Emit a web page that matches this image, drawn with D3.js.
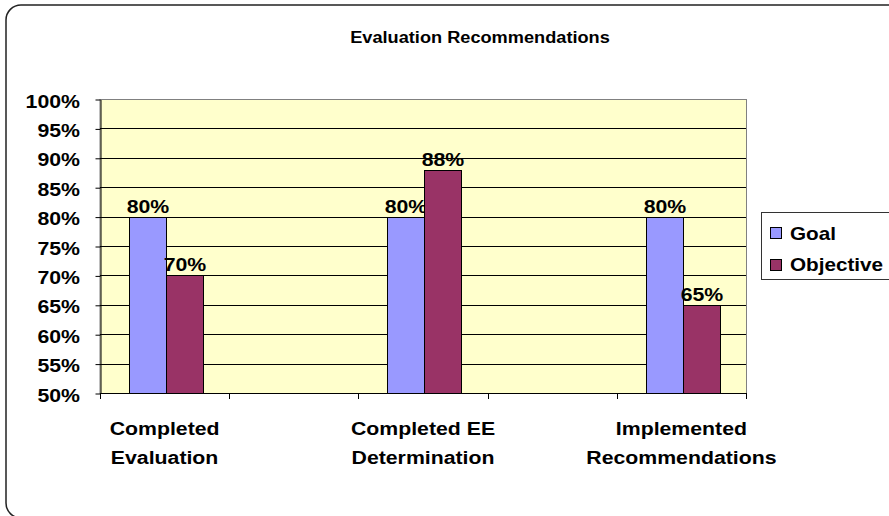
<!DOCTYPE html>
<html lang="en">
<head>
<meta charset="utf-8">
<title>Evaluation Recommendations</title>
<script type="text/javascript" src="https://cdn.jsdelivr.net/npm/d3@7/dist/d3.min.js"></script>
<style type="text/css">
  html, body { margin: 0; background: white; overflow: hidden; }
  svg { display: block; }
  text { font-family: "Liberation Sans", Arial, sans-serif; font-weight: bold; fill: #000; }
</style>
</head>
<body>
<div id="chart"></div>
<script type="text/javascript">

// data
var categories = [["Completed", "Evaluation"], [], ["Completed EE", "Determination"], [], ["Implemented", "Recommendations"]];
var seriesNames = ["Goal", "Objective"];
var goal = [80, null, 80, null, 80];
var objective = [70, null, 88, null, 65];
var yTicks = [50, 55, 60, 65, 70, 75, 80, 85, 90, 95, 100];

var width = 889, height = 516;
var plot = {left: 100, right: 746, top: 99, bottom: 393};
var colors = ["#9999FF", "#993366"];

var svg = d3.select("#chart").append("svg")
    .attr("width", width)
    .attr("height", height);

// text helper, the source lettering is a bit stretched sideways
function label(g, x, y, txt, size, anchor, sx) {
  return g.append("text")
    .attr("transform", "translate(" + x + "," + y + ") scale(" + (sx || 1.15) + ",1)")
    .attr("text-anchor", anchor || "middle")
    .style("font-size", size + "px")
    .text(txt);
}

// outer frame, runs off the right and bottom edges
svg.append("rect")
  .attr("x", 6).attr("y", 5)
  .attr("width", 930).attr("height", 513)
  .attr("rx", 15).attr("ry", 15)
  .attr("fill", "white")
  .attr("stroke", "#222")
  .attr("stroke-width", 1.5);

label(svg, 480, 43, "Evaluation Recommendations", 17, "middle", 1.07);

var x = d3.scaleBand()
  .domain(d3.range(categories.length))
  .range([plot.left, plot.right]);

var bw = x.bandwidth() / 3.5;
var x1 = d3.scaleBand()
  .domain(seriesNames)
  .range([bw * 0.78, bw * 2.78]);

var y = d3.scaleLinear()
  .domain([50, 100])
  .range([plot.bottom, plot.top]);

// plot background
svg.append("rect")
  .attr("x", plot.left).attr("y", plot.top + 0.5)
  .attr("width", plot.right - plot.left + 0.5)
  .attr("height", plot.bottom - plot.top)
  .attr("fill", "#FFFFCC")
  .attr("stroke", "#808080")
  .attr("stroke-width", 1);

// gridlines
svg.append("g")
  .selectAll("line")
  .data(yTicks.slice(1, -1))
  .enter().append("line")
  .attr("x1", plot.left).attr("x2", plot.right)
  .attr("y1", function(d) { return Math.round(y(d)) + 0.5; })
  .attr("y2", function(d) { return Math.round(y(d)) + 0.5; })
  .attr("stroke", "#000");

// y axis
var yAxis = svg.append("g")
  .attr("transform", "translate(" + (plot.left + 0.5) + ",0.5)")
  .call(d3.axisLeft(y).tickValues(yTicks).tickSize(5).tickSizeOuter(0).tickFormat(""));
yAxis.select(".domain").attr("stroke", "#000");
yAxis.selectAll(".tick line").attr("stroke", "#000");

yTicks.forEach(function(t) {
  label(svg, 80, y(t) + 8.5, t + "%", 18.5, "end");
});

// x axis, ticks between categories
var xAxis = svg.append("g");
xAxis.append("line")
  .attr("x1", plot.left).attr("x2", plot.right + 1)
  .attr("y1", plot.bottom + 0.5).attr("y2", plot.bottom + 0.5)
  .attr("stroke", "#000");
xAxis.selectAll(".tk")
  .data(d3.range(categories.length + 1))
  .enter().append("line")
  .attr("class", "tk")
  .attr("x1", function(i) { return Math.round(plot.left + i * x.step()) + 0.5; })
  .attr("x2", function(i) { return Math.round(plot.left + i * x.step()) + 0.5; })
  .attr("y1", plot.bottom).attr("y2", plot.bottom + 6)
  .attr("stroke", "#000");

categories.forEach(function(lines, i) {
  lines.forEach(function(s, j) {
    label(svg, x(i) + x.bandwidth() / 2, 435 + j * 28.5, s, 18.5);
  });
});

// bars
var series = [goal, objective];
series.forEach(function(vals, s) {
  var g = svg.append("g");
  vals.forEach(function(v, i) {
    if (v === null) return;
    var bx = Math.round(x(i) + x1(seriesNames[s])) + 0.5;
    g.append("rect")
      .attr("x", bx)
      .attr("y", Math.round(y(v)) + 0.5)
      .attr("width", Math.round(x1.bandwidth()))
      .attr("height", Math.round(y(50)) - Math.round(y(v)))
      .attr("fill", colors[s])
      .attr("stroke", "#000")
      .attr("stroke-width", 1);
    label(g, bx + x1.bandwidth() / 2, y(v) - 4, v + "%", 18.5);
  });
});

// legend
var legend = svg.append("g");
legend.append("rect")
  .attr("x", 761.5).attr("y", 212.5)
  .attr("width", 150).attr("height", 67)
  .attr("fill", "white")
  .attr("stroke", "#333");
seriesNames.forEach(function(n, i) {
  legend.append("rect")
    .attr("x", 770.5).attr("y", 227.5 + i * 32)
    .attr("width", 11).attr("height", 11)
    .attr("fill", colors[i])
    .attr("stroke", "#000");
  label(legend, 790, 239.5 + i * 31.5, n, 18, "start");
});

</script>
</body>
</html>
